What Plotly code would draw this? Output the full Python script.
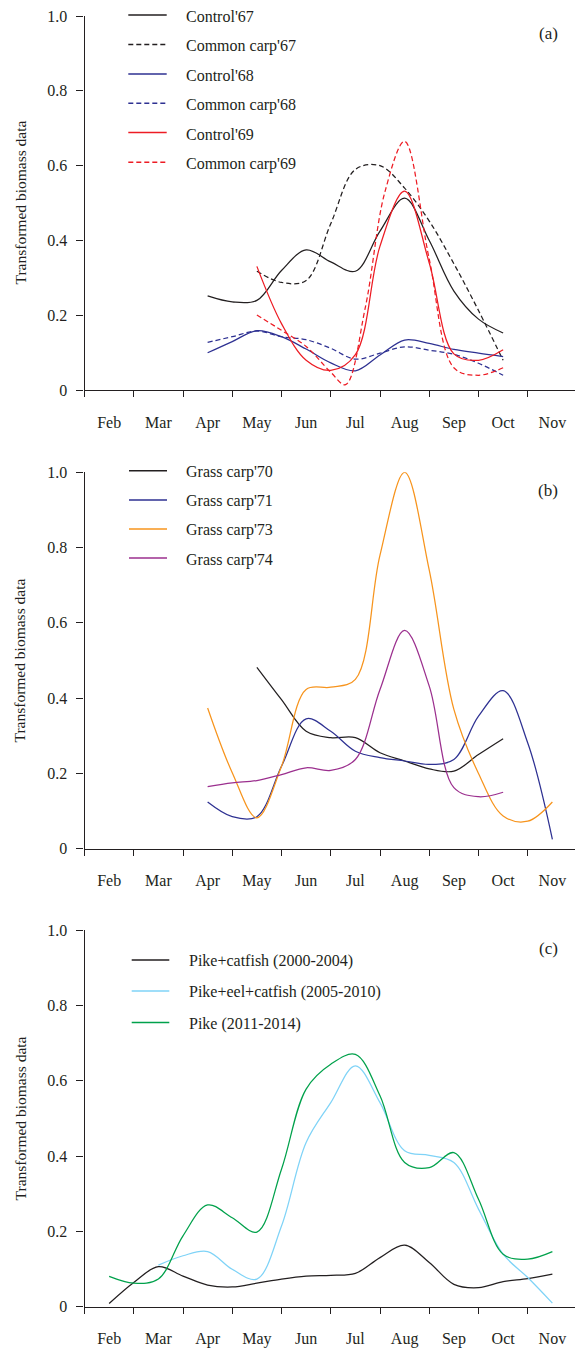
import plotly.graph_objects as go

# ---------------- data ----------------
MONTHS = ["Feb", "Mar", "Apr", "May", "Jun", "Jul", "Aug", "Sep", "Oct", "Nov"]
MONTH_POS = [1, 2, 3, 4, 5, 6, 7, 8, 9, 10]
Y_TICKS = [0, 0.2, 0.4, 0.6, 0.8, 1.0]
Y_TICKTEXT = ["0", "0.2", "0.4", "0.6", "0.8", "1.0"]

# panel (a)
x_apr_oct = [3, 3.5, 4, 4.5, 5, 5.5, 6, 6.5, 7, 7.5, 8, 8.5, 9]
x_may_oct = [4, 4.5, 5, 5.5, 6, 6.5, 7, 7.5, 8, 8.5, 9]
control67 = [0.252, 0.236, 0.240, 0.320, 0.375, 0.343, 0.318, 0.425, 0.513, 0.400, 0.265, 0.190, 0.153]
commoncarp67 = [0.318, 0.288, 0.293, 0.445, 0.590, 0.600, 0.540, 0.452, 0.338, 0.213, 0.080]
control68 = [0.100, 0.130, 0.159, 0.143, 0.110, 0.073, 0.052, 0.094, 0.134, 0.125, 0.109, 0.099, 0.090]
commoncarp68 = [0.128, 0.143, 0.158, 0.143, 0.135, 0.112, 0.083, 0.099, 0.116, 0.107, 0.096, 0.072, 0.040]
control69 = [0.331, 0.178, 0.080, 0.053, 0.095, 0.385, 0.532, 0.340, 0.097, 0.080, 0.108]
x_cc69 = [4, 4.5, 5, 5.5, 5.8, 6.2, 6.6, 7, 7.5, 8, 8.5, 9]
commoncarp69 = [0.201, 0.160, 0.117, 0.048, 0.015, 0.220, 0.530, 0.665, 0.350, 0.060, 0.040, 0.060]

# panel (b)
x_b70 = [4, 4.5, 5, 5.5, 6, 6.5, 7, 7.5, 8, 8.5, 9]
grass70 = [0.482, 0.396, 0.312, 0.295, 0.295, 0.255, 0.233, 0.212, 0.206, 0.250, 0.292]
x_b71 = [3, 3.5, 4, 4.5, 5, 5.5, 6, 6.5, 7, 7.5, 8, 8.5, 9, 9.5, 10]
grass71 = [0.124, 0.085, 0.085, 0.219, 0.345, 0.312, 0.259, 0.242, 0.233, 0.224, 0.237, 0.352, 0.420, 0.281, 0.025]
x_b73 = [3, 3.5, 4, 4.5, 5, 5.5, 6, 6.5, 7, 7.5, 8, 8.5, 9, 9.5, 10]
grass73 = [0.374, 0.202, 0.082, 0.219, 0.423, 0.429, 0.450, 0.780, 1.000, 0.740, 0.370, 0.200, 0.087, 0.073, 0.124]
x_b74 = [3, 3.5, 4, 4.5, 5, 5.5, 6, 6.5, 7, 7.5, 8, 8.5, 9]
grass74 = [0.165, 0.175, 0.181, 0.197, 0.215, 0.208, 0.237, 0.423, 0.580, 0.432, 0.162, 0.138, 0.150]

# panel (c)
x_c_full = [1, 1.5, 2, 2.5, 3, 3.5, 4, 4.5, 5, 5.5, 6, 6.5, 7, 7.5, 8, 8.5, 9, 9.5, 10]
x_c_mar = [2, 2.5, 3, 3.5, 4, 4.5, 5, 5.5, 6, 6.5, 7, 7.5, 8, 8.5, 9, 9.5, 10]
pike_catfish = [0.008, 0.064, 0.106, 0.081, 0.057, 0.052, 0.062, 0.073, 0.081, 0.083, 0.088, 0.130, 0.163,
                0.117, 0.059, 0.050, 0.066, 0.074, 0.086]
pike_eel_catfish = [0.110, 0.135, 0.146, 0.099, 0.073, 0.214, 0.436, 0.542, 0.640, 0.542, 0.414, 0.402,
                    0.383, 0.259, 0.139, 0.077, 0.009]
pike = [0.080, 0.062, 0.073, 0.188, 0.270, 0.236, 0.198, 0.365, 0.578, 0.644, 0.670, 0.560, 0.383,
        0.369, 0.409, 0.285, 0.139, 0.126, 0.146]

# ---------------- styles ----------------
W, H = 583, 1348
FONT = "Liberation Serif"
INK = "#231f20"
BLACK = "#231f20"
BLUE = "#2e3192"
RED = "#ed1c24"
ORANGE = "#f7941d"
PURPLE = "#9b2f8e"
LIGHTBLUE = "#7fd3f7"
GREEN = "#00a14b"
DASH = "5px,3px"
LW = 1.25

# screen-pixel placement helpers (page offset compensation)
OFF_X, OFF_Y, PAPER_H = 8.0, 16.0, 1332.0

X0, X1 = 84.5, 577.0
PANELS = [(14.7, 390.5), (472.7, 849.3), (931.0, 1307.5)]


def px(x):
    return (x - OFF_X) / W


def py(y):
    return 1 - (y - OFF_Y) / PAPER_H


def clamp(v):
    return max(0.0, min(1.0, v))


series = [
    # panel, x, y, color, dash, label
    (1, x_apr_oct, control67, BLACK, "solid", "Control'67"),
    (1, x_may_oct, commoncarp67, BLACK, DASH, "Common carp'67"),
    (1, x_apr_oct, control68, BLUE, "solid", "Control'68"),
    (1, x_apr_oct, commoncarp68, BLUE, DASH, "Common carp'68"),
    (1, x_may_oct, control69, RED, "solid", "Control'69"),
    (1, x_cc69, commoncarp69, RED, DASH, "Common carp'69"),
    (2, x_b70, grass70, BLACK, "solid", "Grass carp'70"),
    (2, x_b71, grass71, BLUE, "solid", "Grass carp'71"),
    (2, x_b73, grass73, ORANGE, "solid", "Grass carp'73"),
    (2, x_b74, grass74, PURPLE, "solid", "Grass carp'74"),
    (3, x_c_full, pike_catfish, BLACK, "solid", "Pike+catfish (2000-2004)"),
    (3, x_c_mar, pike_eel_catfish, LIGHTBLUE, "solid", "Pike+eel+catfish (2005-2010)"),
    (3, x_c_full, pike, GREEN, "solid", "Pike (2011-2014)"),
]

fig = go.Figure()
for p, xs, ys, col, dash, name in series:
    sfx = "" if p == 1 else str(p)
    fig.add_trace(go.Scatter(
        x=xs, y=ys, mode="lines", name=name, showlegend=False,
        line=dict(color=col, width=LW, dash=dash, shape="spline", smoothing=1.0),
        xaxis="x" + sfx, yaxis="y" + sfx,
    ))

layout = dict(
    width=W, height=H, autosize=False,
    margin=dict(l=0, r=0, t=0, b=0, pad=0),
    paper_bgcolor="white", plot_bgcolor="white",
    font=dict(family=FONT, color=INK, size=16),
    showlegend=False,
)

annotations = []
shapes = []
for i, (top, bot) in enumerate(PANELS):
    sfx = "" if i == 0 else str(i + 1)
    layout["xaxis" + sfx] = dict(
        domain=[clamp(px(X0)), clamp(px(X1))], range=[0.5, 10.5],
        anchor="y" + sfx,
        tickmode="array", tickvals=MONTH_POS, ticktext=MONTHS, ticks="",
        ticklabelstandoff=17, ticklabeloverflow="allow",
        minor=dict(ticks="outside", ticklen=6, tickwidth=1.2, tickcolor=INK,
                   tickmode="array", tickvals=[m + 0.5 for m in [0] + MONTH_POS], showgrid=False),
        showline=True, linecolor=INK, linewidth=1.2,
        showgrid=False, zeroline=False,
        tickfont=dict(family=FONT, size=16, color=INK),
    )
    layout["yaxis" + sfx] = dict(
        domain=[clamp(py(bot)), clamp(py(top))], range=[0, 1],
        anchor="x" + sfx,
        tickmode="array", tickvals=Y_TICKS, ticktext=Y_TICKTEXT,
        ticks="outside", ticklen=7, tickwidth=1.2, tickcolor=INK,
        ticklabelstandoff=6, ticklabeloverflow="allow",
        showline=True, linecolor=INK, linewidth=1.2,
        showgrid=False, zeroline=False,
        tickfont=dict(family=FONT, size=16, color=INK),
    )
    annotations.append(dict(
        text="Transformed biomass data", textangle=-90,
        x=px(20), y=py((top + bot) / 2), xref="paper", yref="paper",
        xanchor="center", yanchor="middle", showarrow=False,
        font=dict(family=FONT, size=15.5, color=INK),
    ))
    annotations.append(dict(
        text="(" + "abc"[i] + ")", x=px(548), y=py(top + 18.5), xref="paper", yref="paper",
        xanchor="center", yanchor="middle", showarrow=False,
        font=dict(family=FONT, size=17, color=INK),
    ))

# manual legends
legend_rows = {
    1: ([15.0, 44.5, 74.0, 103.3, 132.6, 162.3], 128.3, 166.7, 184.3),
    2: ([471.0, 500.3, 529.3, 558.5], 129.0, 167.0, 184.3),
    3: ([960.7, 991.7, 1023.3], 131.7, 169.3, 187.3),
}
counters = {1: 0, 2: 0, 3: 0}
for p, xs, ys, col, dash, name in series:
    rows, lx0, lx1, tx = legend_rows[p]
    ry = rows[counters[p]]
    counters[p] += 1
    shapes.append(dict(type="line", xref="paper", yref="paper",
                       x0=px(lx0), x1=px(lx1), y0=py(ry), y1=py(ry),
                       line=dict(color=col, width=LW + 0.3, dash=dash)))
    annotations.append(dict(
        text=name, x=px(tx), y=py(ry + 1.5), xref="paper", yref="paper",
        xanchor="left", yanchor="middle", showarrow=False,
        font=dict(family=FONT, size=16, color=INK),
    ))

layout["annotations"] = annotations
layout["shapes"] = shapes
fig.update_layout(**layout)
fig.write_html("out.html")
